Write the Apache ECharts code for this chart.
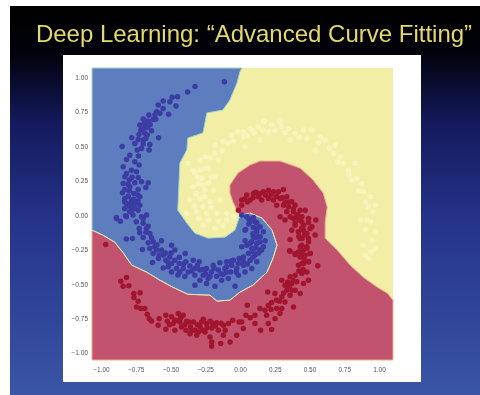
<!DOCTYPE html>
<html>
<head>
<meta charset="utf-8">
<style>
html, body { margin: 0; padding: 0; background: #fff; }
#cn { width: 480px; height: 395px; filter: blur(0.45px); }
</style>
<script src="https://cdn.jsdelivr.net/npm/echarts@6/dist/echarts.min.js"></script>
</head>
<body>
<div id="cn"></div>
<script>
'use strict';

const titleText = 'Deep Learning: \u201cAdvanced Curve Fitting\u201d';
const tickValues = [-1, -0.75, -0.5, -0.25, 0, 0.25, 0.5, 0.75, 1];

// decision regions, yellow is the plot background
const blueRegion = [
    [-1.068, 1.072], [0.011, 1.072], [-0.004, 1.044], [-0.025, 0.964], [-0.076, 0.840], [-0.126, 0.768],
    [-0.242, 0.746], [-0.270, 0.601], [-0.379, 0.564], [-0.386, 0.477], [-0.436, 0.383], [-0.451, 0.041],
    [-0.386, -0.053], [-0.328, -0.126], [-0.234, -0.162], [-0.112, -0.155], [-0.040, -0.104], [-0.004, 0.005],
    [0.068, 0.020], [0.155, -0.017], [0.227, -0.104], [0.263, -0.213], [0.234, -0.307], [0.191, -0.409],
    [0.090, -0.503], [-0.004, -0.554], [-0.076, -0.612], [-0.169, -0.619], [-0.220, -0.576], [-0.379, -0.569],
    [-0.487, -0.518], [-0.580, -0.467], [-0.674, -0.409], [-0.782, -0.358], [-0.847, -0.264], [-0.905, -0.191],
    [-0.991, -0.140], [-1.068, -0.104]
];
const redRegion = [
    [-0.004, 0.005], [-0.018, 0.027], [-0.054, 0.099], [-0.076, 0.165], [-0.076, 0.223], [-0.018, 0.310],
    [0.068, 0.368], [0.141, 0.397], [0.285, 0.397], [0.429, 0.346], [0.523, 0.259], [0.595, 0.165],
    [0.624, 0.063], [0.609, -0.046], [0.609, -0.162], [0.696, -0.249], [0.789, -0.358], [0.883, -0.445],
    [0.984, -0.518], [1.056, -0.561], [1.097, -0.612], [1.097, -1.046], [-1.068, -1.046], [-1.068, -0.104],
    [-0.6, -0.2], [-0.1, -0.2], [0.03, -0.05]
];

const blueArm = [
    [-0.116, 0.973], [-0.327, 0.937], [-0.380, 0.898], [-0.452, 0.864], [-0.491, 0.859], [-0.508, 0.828], [-0.464, 0.796],
    [-0.556, 0.833], [-0.592, 0.803], [-0.556, 0.779], [-0.517, 0.736], [-0.604, 0.755], [-0.580, 0.743], [-0.616, 0.731],
    [-0.659, 0.731], [-0.628, 0.699], [-0.664, 0.687], [-0.700, 0.702], [-0.724, 0.658], [-0.700, 0.634], [-0.671, 0.641],
    [-0.640, 0.617], [-0.717, 0.622], [-0.671, 0.586], [-0.589, 0.566], [-0.782, 0.566], [-0.736, 0.554], [-0.700, 0.549],
    [-0.681, 0.561], [-0.652, 0.518], [-0.760, 0.525], [-0.851, 0.503], [-0.712, 0.489], [-0.743, 0.477], [-0.657, 0.477],
    [-0.796, 0.440], [-0.820, 0.409], [-0.734, 0.433], [-0.760, 0.392], [-0.729, 0.368], [-0.844, 0.355], [-0.784, 0.331],
    [-0.820, 0.307], [-0.748, 0.319], [-0.736, 0.278], [-0.832, 0.283], [-0.712, 0.247], [-0.664, 0.239], [-0.844, 0.234],
    [-0.681, 0.205], [-0.796, 0.210], [-0.832, 0.191], [-0.736, 0.191], [-0.849, 0.167], [-0.767, 0.162], [-0.808, 0.142],
    [-0.724, 0.138], [-0.832, 0.125], [-0.784, 0.113], [-0.748, 0.094], [-0.820, 0.089], [-0.724, 0.077], [-0.767, 0.065],
    [-0.784, 0.041], [-0.736, 0.041], [-0.676, 0.005], [-0.827, 0.000], [-0.892, -0.020], [-0.700, -0.020],
    [-0.833, 0.102], [-0.785, 0.095], [-0.737, 0.107], [-0.761, 0.053], [-0.833, 0.053], [-0.797, 0.029], [-0.773, 0.005],
    [-0.893, -0.012], [-0.821, -0.007], [-0.864, -0.039], [-0.749, -0.043], [-0.712, -0.007], [-0.700, -0.055], [-0.664, -0.075],
    [-0.729, -0.092], [-0.676, -0.092], [-0.725, -0.123], [-0.652, -0.128], [-0.700, -0.157], [-0.821, -0.169], [-0.777, -0.164],
    [-0.664, -0.196], [-0.628, -0.189], [-0.705, -0.244], [-0.652, -0.237], [-0.616, -0.225], [-0.604, -0.249], [-0.568, -0.181],
    [-0.496, -0.213], [-0.568, -0.249], [-0.628, -0.273], [-0.585, -0.285], [-0.556, -0.285], [-0.472, -0.249], [-0.508, -0.298],
    [-0.398, -0.273], [-0.537, -0.322], [-0.472, -0.322], [-0.633, -0.339], [-0.496, -0.346], [-0.441, -0.346], [-0.393, -0.334],
    [-0.340, -0.322], [-0.297, -0.334], [-0.556, -0.378], [-0.520, -0.370], [-0.460, -0.382], [-0.412, -0.382], [-0.364, -0.365],
    [-0.496, -0.407], [-0.436, -0.407], [-0.376, -0.407], [-0.328, -0.382], [-0.292, -0.394], [-0.244, -0.382], [-0.196, -0.358],
    [-0.148, -0.341], [-0.100, -0.334], [-0.051, -0.322], [-0.328, -0.431], [-0.268, -0.431], [-0.208, -0.407], [-0.160, -0.394],
    [-0.112, -0.382], [-0.063, -0.358], [-0.015, -0.346], [-0.292, -0.467], [-0.232, -0.455], [-0.172, -0.438], [-0.124, -0.424],
    [-0.071, -0.407], [-0.027, -0.382], [0.021, -0.358], [-0.328, -0.503], [-0.244, -0.491], [-0.184, -0.511], [-0.136, -0.467],
    [-0.088, -0.455], [-0.039, -0.511], [-0.015, -0.431], [0.033, -0.407], [0.081, -0.382], [0.117, -0.334], [0.069, -0.322],
    [0.021, -0.298], [0.057, -0.273], [0.105, -0.285], [0.141, -0.249], [0.081, -0.237], [0.045, -0.213], [0.117, -0.201],
    [0.033, -0.181], [0.177, -0.181], [0.141, -0.152], [0.093, -0.152], [0.117, -0.116], [0.165, -0.116], [0.037, -0.099],
    [0.093, -0.085], [0.141, -0.080], [0.069, -0.043], [0.117, -0.051], [0.045, -0.007], [0.093, -0.012], [0.009, 0.005],
    [0.057, -0.019], [0.105, -0.044], [0.033, -0.104], [0.129, -0.152], [0.081, -0.189], [0.009, -0.225], [0.153, -0.249],
    [0.165, -0.225],
    [-0.690, 0.670], [-0.650, 0.660], [-0.610, 0.700], [-0.690, 0.600], [-0.730, 0.590], [-0.700, 0.520], [-0.780, 0.280],
    [-0.760, 0.240], [-0.800, 0.180], [-0.770, 0.120], [-0.800, 0.070], [-0.740, 0.150], [-0.800, 0.260], [-0.810, 0.230],
    [-0.680, -0.120], [-0.640, -0.160], [-0.600, -0.210], [-0.590, -0.310], [-0.540, -0.270], [-0.500, -0.270], [-0.520, -0.340],
    [-0.440, -0.300], [-0.410, -0.350], [-0.450, -0.430], [-0.400, -0.440], [-0.350, -0.400], [-0.310, -0.360], [-0.270, -0.390],
    [-0.250, -0.420], [-0.220, -0.440], [-0.190, -0.380], [-0.140, -0.420], [-0.100, -0.410], [-0.100, -0.370], [-0.030, -0.410],
    [-0.070, -0.330], [-0.010, -0.310], [0.020, -0.330], [0.050, -0.350], [0.090, -0.300], [0.090, -0.260], [0.130, -0.270],
    [0.110, -0.230], [0.070, -0.200], [0.140, -0.190], [0.110, -0.160], [0.120, -0.090], [0.060, -0.060], [0.090, -0.130]
];

const redArm = [
    [-0.969, -0.208], [-0.861, -0.474], [-0.820, -0.448], [-0.844, -0.511], [-0.803, -0.508], [-0.767, -0.564], [-0.722, -0.559],
    [-0.767, -0.593], [-0.736, -0.620], [-0.748, -0.661], [-0.717, -0.673], [-0.688, -0.673], [-0.671, -0.714], [-0.657, -0.746],
    [-0.640, -0.763], [-0.585, -0.746], [-0.592, -0.794], [-0.537, -0.721], [-0.527, -0.765], [-0.537, -0.823], [-0.496, -0.733],
    [-0.484, -0.782], [-0.472, -0.830], [-0.448, -0.709], [-0.436, -0.770], [-0.424, -0.806], [-0.412, -0.721], [-0.388, -0.765],
    [-0.392, -0.830], [-0.359, -0.806], [-0.339, -0.770], [-0.327, -0.830], [-0.363, -0.855], [-0.315, -0.867], [-0.291, -0.806],
    [-0.267, -0.750], [-0.243, -0.782], [-0.255, -0.842], [-0.219, -0.765], [-0.207, -0.813], [-0.219, -0.879], [-0.171, -0.775],
    [-0.159, -0.830], [-0.123, -0.794], [-0.123, -0.867], [-0.087, -0.782], [-0.207, -0.915], [-0.207, -0.947], [-0.142, -0.927],
    [-0.075, -0.915], [-0.056, -0.758], [-0.027, -0.867], [-0.010, -0.770], [-0.195, -0.794], [-0.472, -0.758], [-0.303, -0.842],
    [0.008, -0.770], [0.020, -0.818], [0.049, -0.649], [0.039, -0.721], [0.104, -0.721], [0.104, -0.782], [0.145, -0.830],
    [0.224, -0.825], [0.140, -0.673], [0.176, -0.685], [0.200, -0.782], [0.188, -0.721], [0.248, -0.746], [0.224, -0.629],
    [0.260, -0.673], [0.297, -0.673], [0.284, -0.709], [0.320, -0.625], [0.381, -0.661], [0.196, -0.552], [0.248, -0.564],
    [0.297, -0.588], [0.357, -0.576], [0.333, -0.540], [0.393, -0.540], [0.429, -0.564], [0.297, -0.467], [0.320, -0.504],
    [0.369, -0.491], [0.405, -0.479], [0.453, -0.491], [0.489, -0.467], [0.357, -0.443], [0.393, -0.431], [0.441, -0.419],
    [0.477, -0.407], [0.417, -0.358], [0.453, -0.346], [0.489, -0.334], [0.556, -0.363], [0.429, -0.298], [0.465, -0.286],
    [0.501, -0.273], [0.357, -0.257], [0.393, -0.281], [0.441, -0.213], [0.477, -0.225], [0.357, -0.172], [0.429, -0.165],
    [0.489, -0.165], [0.537, -0.140], [0.369, -0.104], [0.417, -0.116], [0.453, -0.104], [0.501, -0.092], [0.393, -0.056],
    [0.441, -0.043], [0.489, -0.048], [0.542, -0.031], [0.320, -0.031], [0.357, -0.007], [0.405, -0.007], [0.285, -0.007],
    [-0.015, 0.041], [0.009, 0.077], [0.009, 0.114], [0.045, 0.150], [0.069, 0.114], [0.093, 0.162], [0.129, 0.138],
    [0.165, 0.174], [0.201, 0.186], [0.237, 0.174], [0.273, 0.174], [0.309, 0.191], [0.153, 0.114], [0.201, 0.126],
    [0.237, 0.114], [0.285, 0.126], [0.333, 0.138], [0.369, 0.102], [0.261, 0.077], [0.309, 0.077], [0.345, 0.065],
    [0.393, 0.077], [0.333, 0.029], [0.381, 0.029], [0.429, 0.041], [0.466, 0.041], [0.381, -0.019], [0.442, -0.007],
    [0.490, -0.019], [0.393, -0.068], [0.454, -0.068], [0.514, -0.080], [0.417, -0.116], [0.478, -0.128], [0.442, -0.165],
    [0.490, -0.189], [0.430, -0.225], [0.478, -0.237], [0.353, -0.254], [0.394, -0.274], [0.442, -0.286], [0.502, -0.274],
    [0.442, -0.346], [0.490, -0.334],
    [-0.510, -0.790], [-0.460, -0.760], [-0.430, -0.740], [-0.400, -0.790], [-0.370, -0.770], [-0.350, -0.830], [-0.310, -0.790],
    [-0.280, -0.770], [-0.270, -0.830], [-0.240, -0.810], [-0.200, -0.780], [-0.180, -0.800], [-0.140, -0.780], [-0.110, -0.830],
    [0.030, 0.120], [0.050, 0.100], [0.090, 0.130], [0.110, 0.170], [0.140, 0.160], [0.180, 0.150], [0.220, 0.150], [0.260, 0.140],
    [0.300, 0.130], [0.320, 0.100], [0.350, 0.100], [0.380, 0.050], [0.410, 0.010], [0.420, -0.030], [0.440, -0.090], [0.420, -0.150],
    [0.460, -0.140], [0.450, -0.250], [0.420, -0.260], [0.460, -0.320], [0.420, -0.400], [0.450, -0.390], [0.380, -0.470], [0.350, -0.510],
    [0.340, -0.480], [0.370, -0.540], [0.310, -0.560], [0.280, -0.620], [0.260, -0.610], [0.220, -0.680], [0.200, -0.650], [0.070, -0.740]
];

const creamArm = [
    [0.020, 0.610], [0.068, 0.634], [0.128, 0.646], [0.176, 0.690], [0.224, 0.658], [0.284, 0.695], [0.296, 0.646],
    [0.345, 0.634], [0.393, 0.598], [0.453, 0.622], [0.513, 0.622], [0.573, 0.574], [0.609, 0.549], [0.537, 0.477],
    [0.669, 0.452], [0.717, 0.428], [0.741, 0.380], [0.825, 0.380], [0.777, 0.331], [0.837, 0.271], [0.873, 0.234],
    [0.885, 0.174], [0.934, 0.138], [0.970, 0.077], [0.921, 0.065], [0.032, 0.501], [0.140, 0.549], [0.357, 0.549],
    [0.477, 0.561], [0.681, 0.513], [0.934, -0.043], [0.970, -0.116], [0.885, -0.213], [0.921, -0.310], [0.910, -0.031],
    [0.861, -0.031], [0.945, -0.177], [0.897, -0.286], [0.970, -0.237], [0.165, 0.683], [0.285, 0.683], [0.081, 0.623],
    [0.021, 0.574], [-0.064, 0.586], [-0.124, 0.538], [-0.184, 0.514], [-0.088, 0.526], [-0.256, 0.429], [-0.184, 0.453],
    [-0.292, 0.332], [-0.232, 0.344], [-0.160, 0.405], [-0.304, 0.235], [-0.256, 0.187], [-0.184, 0.284], [-0.376, 0.380],
    [-0.292, 0.404], [-0.328, 0.308], [-0.256, 0.344], [-0.208, 0.283], [-0.340, 0.211], [-0.268, 0.223], [-0.196, 0.186],
    [-0.364, 0.114], [-0.292, 0.126], [-0.220, 0.102], [-0.147, 0.114], [-0.316, 0.029], [-0.244, 0.017], [-0.171, 0.017],
    [-0.099, 0.017], [-0.268, -0.068], [-0.183, -0.092], [-0.123, -0.068], [-0.388, 0.017], [-0.051, -0.007],
    [-0.340, 0.330], [-0.310, 0.280], [-0.280, 0.270], [-0.230, 0.240], [-0.320, 0.160], [-0.260, 0.140], [-0.330, 0.070],
    [-0.270, 0.070], [-0.210, 0.060], [-0.230, -0.030], [-0.160, -0.040], [-0.100, -0.030], [-0.300, -0.020], [-0.220, 0.420],
    [-0.130, 0.470], [-0.050, 0.540], [-0.020, 0.610], [0.050, 0.580], [0.100, 0.600], [0.160, 0.620], [0.200, 0.610], [0.250, 0.620],
    [0.320, 0.600], [0.420, 0.570], [0.560, 0.530], [0.640, 0.490], [0.700, 0.390], [0.780, 0.300], [0.800, 0.260], [0.850, 0.180],
    [0.900, 0.100], [0.950, 0.030], [0.900, -0.100], [0.940, -0.260]
];

const regionSeries = (region, color, edge) => ({
    type: 'custom',
    silent: true,
    z: 1,
    data: [0],
    renderItem: (params, api) => ({
        type: 'polygon',
        shape: { points: region.map(p => api.coord(p)) },
        style: { fill: color, stroke: edge, lineWidth: 1 }
    })
});

const armSeries = (data, color) => ({
    type: 'scatter',
    silent: true,
    z: 3,
    symbolSize: 5.5,
    data: data,
    itemStyle: { color: color, opacity: 1 }
});

const axisBase = {
    type: 'value',
    axisLine: { show: false },
    axisTick: { show: false },
    splitLine: { show: false }
};
const fmtTick = v => v.toFixed(2).replace('-', '\u2212');

const chart = echarts.init(document.getElementById('cn'));

chart.setOption({
    animation: false,
    title: {
        text: titleText,
        left: 249,
        top: 18,
        textAlign: 'center',
        textStyle: { color: '#e3d968', fontFamily: 'Liberation Sans', fontSize: 24, fontWeight: 'normal' }
    },
    graphic: [
        {
            type: 'rect',
            z: -10,
            shape: { x: 10, y: 6, width: 470, height: 389 },
            style: {
                fill: new echarts.graphic.LinearGradient(0, 0, 0, 1, [
                    { offset: 0, color: '#000000' },
                    { offset: 0.12, color: '#02020c' },
                    { offset: 0.3, color: '#141a5c' },
                    { offset: 0.55, color: '#25338a' },
                    { offset: 1, color: '#3a55a6' }
                ])
            }
        },
        {
            type: 'rect',
            z: -9,
            shape: { x: 63, y: 55, width: 358, height: 327 },
            style: { fill: '#ffffff' }
        }
    ],
    grid: {
        show: true,
        left: 92,
        right: 87,
        top: 68,
        bottom: 35,
        borderWidth: 0,
        backgroundColor: '#f3eea6'
    },
    xAxis: Object.assign({}, axisBase, {
        min: -1.068,
        max: 1.097,
        axisLabel: {
            customValues: tickValues,
            formatter: fmtTick,
            color: '#555',
            fontFamily: 'Liberation Sans',
            fontSize: 6.5,
            margin: 7
        }
    }),
    yAxis: Object.assign({}, axisBase, {
        min: -1.046,
        max: 1.072,
        axisLabel: {
            customValues: tickValues,
            formatter: fmtTick,
            color: '#555',
            fontFamily: 'Liberation Sans',
            fontSize: 6.5,
            margin: 4
        }
    }),
    series: [
        regionSeries(redRegion, '#c2536f', '#eeb088'),
        regionSeries(blueRegion, '#5d7dbf', '#a3d6c6'),
        {
            type: 'line',
            silent: true,
            z: 2,
            showSymbol: false,
            data: blueRegion.slice(18),
            lineStyle: { color: '#f0e4a4', width: 1 }
        },
        armSeries(blueArm, '#3c3ca4'),
        armSeries(redArm, '#a2152f'),
        armSeries(creamArm, '#f8f4bc')
    ]
});
</script>
</body>
</html>
